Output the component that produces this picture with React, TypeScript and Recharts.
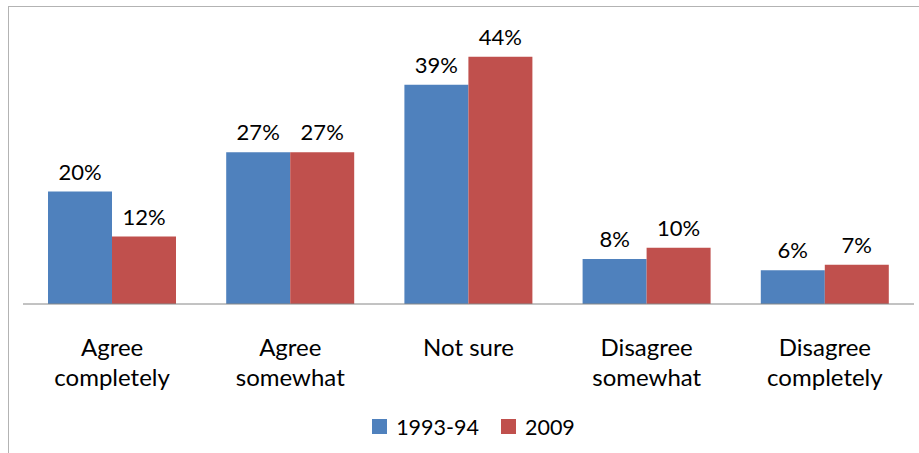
import React from "react";
import { BarChart, Bar, XAxis, YAxis, Legend, LabelList } from "recharts";

const categories = ["Agree\ncompletely", "Agree\nsomewhat", "Not sure", "Disagree\nsomewhat", "Disagree\ncompletely"];
const series1993 = [20, 27, 39, 8, 6];
const series2009 = [12, 27, 44, 10, 7];
const seriesNames = ["1993-94", "2009"];
const colors = ["#4F81BD", "#C0504D"];

const data = categories.map((c, i) => ({ name: c, a: series1993[i], b: series2009[i] }));

const FONT = "Lato, 'Liberation Sans', sans-serif";

const Tick = (props: any) => {
  const { x, y, payload } = props;
  const lines = String(payload.value).split("\n");
  return (
    <text x={x} y={y} textAnchor="middle" fill="#000" fontFamily={FONT} fontSize={24}>
      {lines.map((l, i) => (
        <tspan key={i} x={x} dy={i === 0 ? 52 : 30}>{l}</tspan>
      ))}
    </text>
  );
};

const LegendContent = () => (
  <div style={{ display: "flex", justifyContent: "center", alignItems: "center", height: 45, fontFamily: FONT, fontSize: 21.5, color: "#000", paddingLeft: 10 }}>
    {seriesNames.map((n, i) => (
      <div key={n} style={{ display: "flex", alignItems: "center", marginRight: i === 0 ? 22 : 0 }}>
        <div style={{ width: 15, height: 15, background: colors[i], marginRight: 9 }} />
        <span>{n}</span>
      </div>
    ))}
  </div>
);

export default function App() {
  return (
    <div style={{ position: "fixed", left: 0, top: 0, width: 919, height: 453, overflow: "hidden", background: "#fff" }}>
      <div style={{ position: "absolute", left: 8, top: 6, width: 930, height: 470, border: "1px solid #b3b3b3" }} />
      <div style={{ position: "absolute", left: 0, top: 0 }}>
        <BarChart width={919} height={453} data={data} barSize={64} barGap={0}
          margin={{ top: 23, right: 5, left: 23, bottom: 4 }}>
          <XAxis dataKey="name" axisLine={{ stroke: "#868686" }} tickLine={false} tickSize={0} tickMargin={0}
            height={100} tick={<Tick />} interval={0} />
          <YAxis hide domain={[0, 50]} />
          <Legend verticalAlign="bottom" height={45} content={<LegendContent />} />
          <Bar dataKey="a" fill={colors[0]} isAnimationActive={false}>
            <LabelList dataKey="a" position="top" offset={12} formatter={(v: any) => `${v}%`}
              style={{ fontFamily: FONT, fontSize: 22, fill: "#000" }} />
          </Bar>
          <Bar dataKey="b" fill={colors[1]} isAnimationActive={false}>
            <LabelList dataKey="b" position="top" offset={12} formatter={(v: any) => `${v}%`}
              style={{ fontFamily: FONT, fontSize: 22, fill: "#000" }} />
          </Bar>
        </BarChart>
      </div>
    </div>
  );
}
